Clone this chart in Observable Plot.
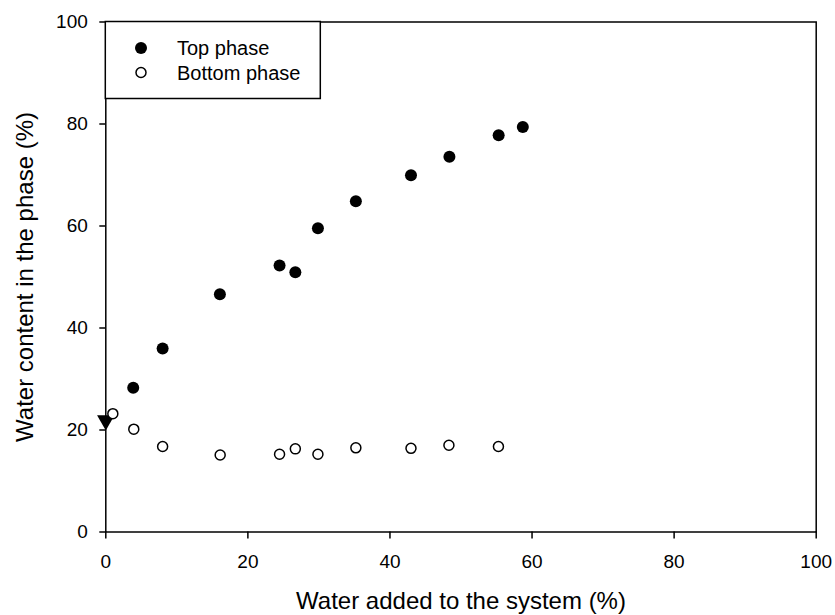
<!DOCTYPE html>
<html><head><meta charset="utf-8">
<script src="https://cdn.jsdelivr.net/npm/d3@7"></script>
<script src="https://cdn.jsdelivr.net/npm/@observablehq/plot@0.6"></script>
<style>
body{margin:0;background:#fff;}
#wrap{position:relative;width:835px;height:615px;font-family:"Liberation Sans",Arial,sans-serif;}
#wrap svg{display:block}
#legend{position:absolute;left:0;top:0;pointer-events:none}
</style></head><body><div id="wrap"></div>
<script>
// Top phase (filled circles)
const topX = [3.86, 8.0, 16.06, 24.46, 26.68, 29.86, 35.2, 42.96, 48.37, 55.3, 58.7];
const topY = [28.3, 36.0, 46.6, 52.25, 50.94, 59.57, 64.86, 69.96, 73.57, 77.8, 79.4];
// Bottom phase (open circles)
const bottomX = [0.99, 3.94, 8.0, 16.1, 24.46, 26.68, 29.86, 35.2, 42.96, 48.3, 55.27];
const bottomY = [23.2, 20.16, 16.76, 15.1, 15.25, 16.3, 15.25, 16.5, 16.4, 17.0, 16.76];
// Initial point (triangle)
const initX = [0];
const initY = [21.9];

const xTicks = [0, 20, 40, 60, 80, 100];
const yTicks = [0, 20, 40, 60, 80, 100];
const xTitle = "Water added to the system (%)";
const yTitle = "Water content in the phase (%)";
const seriesNames = ["Top phase", "Bottom phase"];

const topData = topX.map((x, i) => ({x, y: topY[i]}));
const bottomData = bottomX.map((x, i) => ({x, y: bottomY[i]}));
const initData = initX.map((x, i) => ({x, y: initY[i]}));

const W = 835, H = 615;
const mL = 105.3, mR = 19.3, mT = 21.5, mB = 83.5;

const chart = Plot.plot({
  width: W, height: H,
  marginLeft: mL, marginRight: mR, marginTop: mT, marginBottom: mB,
  style: {fontFamily: "Liberation Sans, Arial, sans-serif", fontSize: "19px", color: "black", background: "white", overflow: "visible"},
  x: {domain: [0, 100]},
  y: {domain: [0, 100]},
  marks: [
    Plot.axisX({ticks: xTicks, tickSize: 7, tickPadding: 15, label: null, fontSize: 19, strokeWidth: 1.5}),
    Plot.axisY({ticks: yTicks, tickSize: 6, tickPadding: 12, label: null, fontSize: 19, strokeWidth: 1.5}),
    Plot.frame({stroke: "black", strokeWidth: 1.5}),
    Plot.dot(initData, {x: "x", y: "y", symbol: "triangle", r: 6.5, fill: "black", stroke: "none", rotate: 180}),
    Plot.dot(bottomData, {x: "x", y: "y", r: 5, stroke: "black", strokeWidth: 1.5, fill: "white"}),
    Plot.dot(topData, {x: "x", y: "y", r: 6, fill: "black", stroke: "none"}),
    Plot.text([xTitle], {text: d => d, frameAnchor: "bottom", dy: 69, fontSize: 24, textAnchor: "middle", lineAnchor: "middle", fill: "black"}),
    Plot.text([yTitle], {text: d => d, frameAnchor: "left", dx: -80, rotate: -90, fontSize: 24, textAnchor: "middle", lineAnchor: "middle", fill: "black"})
  ]
});
const wrap = document.getElementById("wrap");
wrap.appendChild(chart);

// Legend box overlay
const lg = d3.select(wrap).append("svg").attr("id", "legend").attr("width", W).attr("height", H);
lg.append("rect").attr("x", mL).attr("y", mT).attr("width", 215).attr("height", 77)
  .attr("fill", "white").attr("stroke", "black").attr("stroke-width", 1.5);
const entries = [
  {name: seriesNames[0], fill: "black", stroke: "none", r: 6},
  {name: seriesNames[1], fill: "white", stroke: "black", r: 5}
];
entries.forEach((e, i) => {
  const cy = 48 + i * 24.5;
  lg.append("circle").attr("cx", 141).attr("cy", cy).attr("r", e.r)
    .attr("fill", e.fill).attr("stroke", e.stroke).attr("stroke-width", 1.5);
  lg.append("text").attr("x", 177).attr("y", cy + 7).text(e.name)
    .attr("font-family", "Liberation Sans, Arial, sans-serif").attr("font-size", 20).attr("fill", "black");
});
</script>
</body></html>
